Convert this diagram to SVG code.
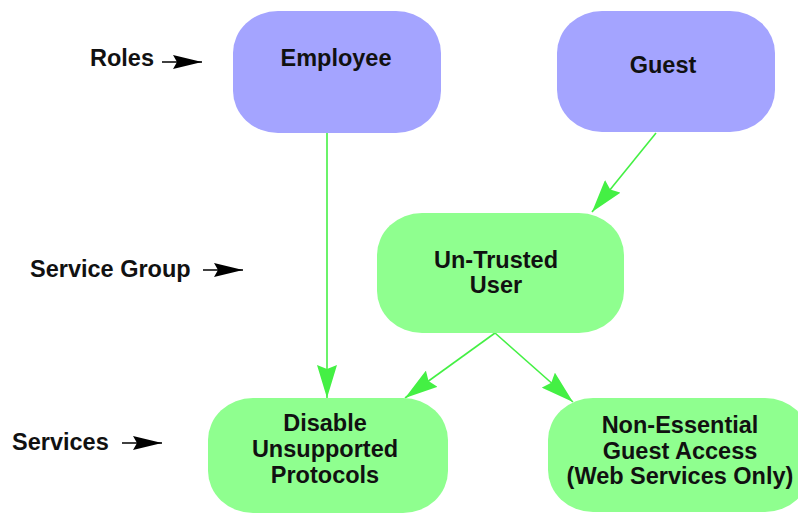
<svg xmlns="http://www.w3.org/2000/svg" width="798" height="514" viewBox="0 0 798 514">
<defs>
<style>
text{font-family:"Liberation Sans",Arial,sans-serif;font-weight:bold;font-size:23.5px;fill:#111}
.c{text-anchor:middle}
.role{fill:#a4a4ff}
.svc{fill:#8fff8f}
.edge{stroke:#44f044;stroke-width:1.6;fill:none}
.key{stroke:#000;stroke-width:1.6;fill:none}
</style>
<marker id="ga" markerUnits="userSpaceOnUse" viewBox="0 0 33 20" markerWidth="33" markerHeight="20" refX="33" refY="10" orient="auto">
<path d="M0,0 L33,10 L0,20 L4,10 z" fill="#44f044"/>
</marker>
<marker id="ka" markerUnits="userSpaceOnUse" viewBox="0 0 29 14" markerWidth="29" markerHeight="14" refX="29" refY="7" orient="auto">
<path d="M0,0 L29,7 L0,14 L4,7 z" fill="#000"/>
</marker>
</defs>
<rect width="798" height="514" fill="#fff"/>
<g id="connectors">
<line class="edge" x1="327" y1="133" x2="327" y2="398" marker-end="url(#ga)"/>
<line class="edge" x1="656" y1="133" x2="592" y2="212" marker-end="url(#ga)"/>
<line class="edge" x1="495" y1="333" x2="405" y2="398" marker-end="url(#ga)"/>
<line class="edge" x1="495" y1="333" x2="573" y2="402" marker-end="url(#ga)"/>
</g>
<g id="legend">
<text x="90" y="66">Roles</text>
<line class="key" x1="162" y1="62" x2="202" y2="62" marker-end="url(#ka)"/>
<text x="30" y="277">Service Group</text>
<line class="key" x1="203" y1="270" x2="243" y2="270" marker-end="url(#ka)"/>
<text x="12" y="450">Services</text>
<line class="key" x1="122" y1="443" x2="162" y2="443" marker-end="url(#ka)"/>
</g>
<g id="employee">
<rect class="role" x="233" y="11" width="208" height="122" rx="45" ry="42"/>
<text class="c" x="336" y="66">Employee</text>
</g>
<g id="guest">
<rect class="role" x="557" y="11" width="218" height="121" rx="45" ry="42"/>
<text class="c" x="663" y="73">Guest</text>
</g>
<g id="untrusted">
<rect class="svc" x="377" y="213" width="247" height="120" rx="45" ry="42"/>
<text class="c" x="496" y="268">Un-Trusted</text>
<text class="c" x="496" y="293">User</text>
</g>
<g id="disable">
<rect class="svc" x="208" y="398" width="240" height="115" rx="45" ry="42"/>
<text class="c" x="325" y="431">Disable</text>
<text class="c" x="325" y="457">Unsupported</text>
<text class="c" x="325" y="483">Protocols</text>
</g>
<g id="nonessential">
<rect class="svc" x="548" y="398" width="262" height="114" rx="45" ry="42"/>
<text class="c" x="680" y="433">Non-Essential</text>
<text class="c" x="680" y="459">Guest Access</text>
<text class="c" x="680" y="484">(Web Services Only)</text>
</g>
</svg>
